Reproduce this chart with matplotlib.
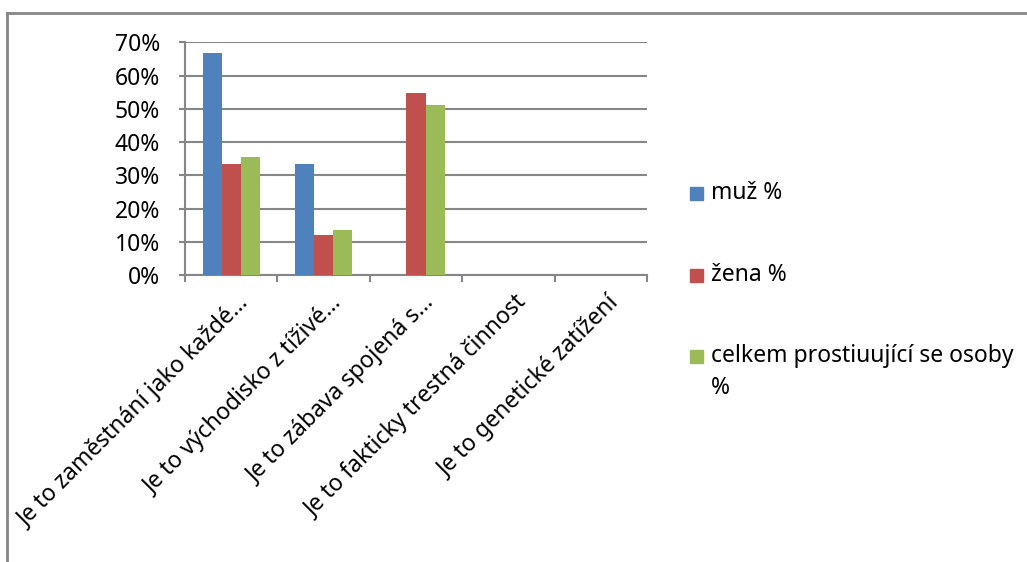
import matplotlib
matplotlib.use("Agg")
import matplotlib.pyplot as plt
import numpy as np
from matplotlib.lines import Line2D
from matplotlib.patches import Rectangle
import matplotlib.transforms as mtransforms

plt.rcParams['font.family'] = ['Noto Sans', 'DejaVu Sans']

categories = [
    "Je to zaměstnání jako každé…",
    "Je to východisko z tíživé…",
    "Je to zábava spojená s…",
    "Je to fakticky trestná činnost",
    "Je to genetické zatížení",
]
series_names = ["muž %", "žena %", "celkem prostiuující se osoby\n%"]
muz = [66.7, 33.3, 0, 0, 0]
zena = [33.3, 11.9, 54.8, 0, 0]
celkem = [35.6, 13.4, 51.1, 0, 0]
yticks = [0, 10, 20, 30, 40, 50, 60, 70]
colors = ["#4F81BD", "#C0504D", "#9BBB59"]

W, H = 1027, 562
fig = plt.figure(figsize=(W / 100, H / 100), dpi=100)
ax = fig.add_axes([185 / W, 1 - 275 / H, (647 - 185) / W, (275 - 42.3) / H])

fs = 16.5
x = np.arange(len(categories))
bw = 0.206
vals = [muz, zena, celkem]
for i, (v, c, name) in enumerate(zip(vals, colors, series_names)):
    ax.bar(x + (i - 1) * bw, np.array(v) / 100, bw, color=c, label=name, zorder=3)

ax.set_xlim(-0.5, len(categories) - 0.5)
ax.set_ylim(0, 0.7)
ax.set_yticks([t / 100 for t in yticks])
ax.set_yticklabels([f"{t}%" for t in yticks], fontsize=fs)
ax.yaxis.grid(True, color="#868686", linewidth=1.5, zorder=0)
ax.set_axisbelow(True)
for s in ["top", "right"]:
    ax.spines[s].set_visible(False)
for s in ["left", "bottom"]:
    ax.spines[s].set_color("#868686")
    ax.spines[s].set_linewidth(1.5)
ax.tick_params(axis="y", length=4, width=1.5, color="#868686", pad=14)
ax.set_xticks(np.arange(-0.5, len(categories)))
ax.set_xticklabels([])
ax.tick_params(axis="x", length=5, width=1.5, color="#868686", direction="out")

# rotated category labels
for i, cat in enumerate(categories):
    off = mtransforms.ScaledTranslation(19 / 100, -29 / 100, fig.dpi_scale_trans)
    trans = mtransforms.blended_transform_factory(ax.transData, ax.transAxes) + off
    ax.text(i, 0, cat, rotation=45, ha="right", va="baseline",
            rotation_mode="anchor", fontsize=fs, transform=trans, clip_on=False)

# legend (drawn in pixel positions to match the original layout)
leg_y = [193, 275, 356]
for name, c, yy in zip(series_names, colors, leg_y):
    fig.add_artist(Rectangle((690 / W, 1 - (yy + 6.5) / H), 13 / W, 13 / H,
                             color=c, transform=fig.transFigure))
    for k, line in enumerate(name.split("\n")):
        fig.text(711 / W, 1 - (yy + 32 * k) / H, line, fontsize=fs,
                 ha="left", va="center")

# outer chart border (top and left visible)
fig.add_artist(Line2D([7 / W, 1.0], [1 - 13 / H, 1 - 13 / H], color="#868686",
                      linewidth=2, transform=fig.transFigure))
fig.add_artist(Line2D([7 / W, 7 / W], [0, 1 - 13 / H], color="#868686",
                      linewidth=2, transform=fig.transFigure))

fig.savefig("out.png", dpi=100, facecolor="white")
